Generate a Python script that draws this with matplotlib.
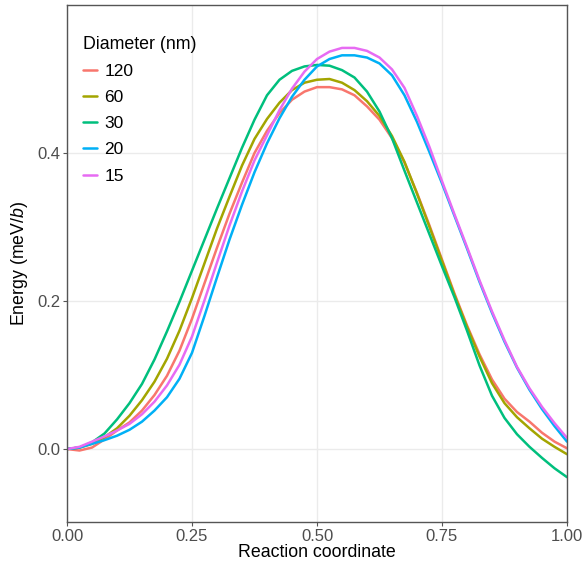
import matplotlib
matplotlib.use("Agg")
import matplotlib.pyplot as plt

# ── Data ─────────────────────────────────────────────────────────────────────
x = [0.000, 0.025, 0.050, 0.075, 0.100, 0.125, 0.150, 0.175, 0.200, 0.225,
     0.250, 0.275, 0.300, 0.325, 0.350, 0.375, 0.400, 0.425, 0.450, 0.475,
     0.500, 0.525, 0.550, 0.575, 0.600, 0.625, 0.650, 0.675, 0.700, 0.725,
     0.750, 0.775, 0.800, 0.825, 0.850, 0.875, 0.900, 0.925, 0.950, 0.975,
     1.000]

e_120 = [0.000, -0.002, 0.002, 0.013, 0.025, 0.036, 0.052, 0.073, 0.099, 0.133,
         0.176, 0.224, 0.272, 0.318, 0.360, 0.400, 0.430, 0.454, 0.472, 0.483,
         0.489, 0.489, 0.486, 0.478, 0.463, 0.445, 0.420, 0.387, 0.346, 0.302,
         0.256, 0.210, 0.167, 0.128, 0.094, 0.068, 0.050, 0.037, 0.022, 0.010,
         0.001]
e_60 = [0.000, 0.002, 0.007, 0.016, 0.028, 0.045, 0.066, 0.091, 0.122, 0.160,
        0.204, 0.251, 0.298, 0.341, 0.383, 0.419, 0.446, 0.468, 0.485, 0.495,
        0.499, 0.500, 0.495, 0.485, 0.470, 0.450, 0.423, 0.388, 0.345, 0.300,
        0.254, 0.208, 0.165, 0.125, 0.089, 0.062, 0.043, 0.028, 0.014, 0.003,
        -0.007]
e_30 = [0.000, 0.002, 0.009, 0.021, 0.040, 0.062, 0.088, 0.121, 0.159, 0.199,
        0.241, 0.283, 0.325, 0.366, 0.407, 0.445, 0.478, 0.499, 0.511, 0.517,
        0.519, 0.518, 0.512, 0.502, 0.483, 0.456, 0.420, 0.376, 0.333, 0.290,
        0.247, 0.205, 0.160, 0.113, 0.072, 0.042, 0.020, 0.003, -0.012, -0.026,
        -0.038]
e_20 = [0.000, 0.002, 0.007, 0.012, 0.018, 0.026, 0.037, 0.052, 0.070, 0.095,
        0.130, 0.180, 0.232, 0.283, 0.330, 0.374, 0.413, 0.447, 0.476, 0.499,
        0.517, 0.527, 0.532, 0.532, 0.529, 0.521, 0.505, 0.478, 0.442, 0.401,
        0.359, 0.315, 0.271, 0.226, 0.184, 0.145, 0.110, 0.080, 0.054, 0.031,
        0.010]
e_15 = [0.000, 0.003, 0.010, 0.017, 0.025, 0.034, 0.047, 0.064, 0.086, 0.114,
        0.152, 0.201, 0.252, 0.302, 0.348, 0.390, 0.424, 0.458, 0.487, 0.510,
        0.527, 0.537, 0.542, 0.542, 0.538, 0.529, 0.513, 0.488, 0.450, 0.408,
        0.362, 0.317, 0.273, 0.228, 0.186, 0.147, 0.111, 0.082, 0.057, 0.035,
        0.015]

diam_labels = ["120", "60", "30", "20", "15"]
series = [e_120, e_60, e_30, e_20, e_15]
colors = ["#F8766D", "#A3A500", "#00BF7D", "#00B0F6", "#E76BF3"]

x_ticks = [0.00, 0.25, 0.50, 0.75, 1.00]
y_ticks = [0.0, 0.2, 0.4]

# ── Style ────────────────────────────────────────────────────────────────────
plt.rcParams.update({
    "font.family": "Liberation Sans",
    "mathtext.fontset": "custom",
    "mathtext.rm": "Liberation Sans",
    "mathtext.it": "Liberation Sans:italic",
})

fig = plt.figure(figsize=(5.84, 5.64), dpi=100)
ax = fig.add_axes([67 / 584, 42 / 564, 500 / 584, 517 / 564])

for lab, ys, c in zip(diam_labels, series, colors):
    ax.plot(x, ys, color=c, lw=1.8, label=lab,
            solid_capstyle="round", solid_joinstyle="round")

ax.set_xlim(0, 1)
ax.set_ylim(-0.0986, 0.6)
ax.set_xticks(x_ticks)
ax.set_xticklabels([f"{v:.2f}" for v in x_ticks])
ax.set_yticks(y_ticks)
ax.set_yticklabels([f"{v:.1f}" for v in y_ticks])

ax.grid(True, color="#EBEBEB", lw=1.0)
ax.set_axisbelow(True)
for s in ax.spines.values():
    s.set_color("#555555")
    s.set_linewidth(1.0)
ax.tick_params(colors="#555555", labelcolor="#4D4D4D", labelsize=12,
               length=3, width=0.8, pad=2)

ax.set_xlabel("Reaction coordinate", fontsize=12.8, color="black", labelpad=0)
ax.set_ylabel(r"Energy (meV/$\mathit{b}$)", fontsize=12.8, color="black", labelpad=5)

leg = ax.legend(title="Diameter (nm)", loc="upper left",
                bbox_to_anchor=(0.0, 0.97), frameon=False,
                fontsize=12.5, title_fontsize=12.8, handlelength=0.8,
                handletextpad=0.45, labelspacing=0.63, alignment="left")

fig.savefig("out.png", dpi=100)
